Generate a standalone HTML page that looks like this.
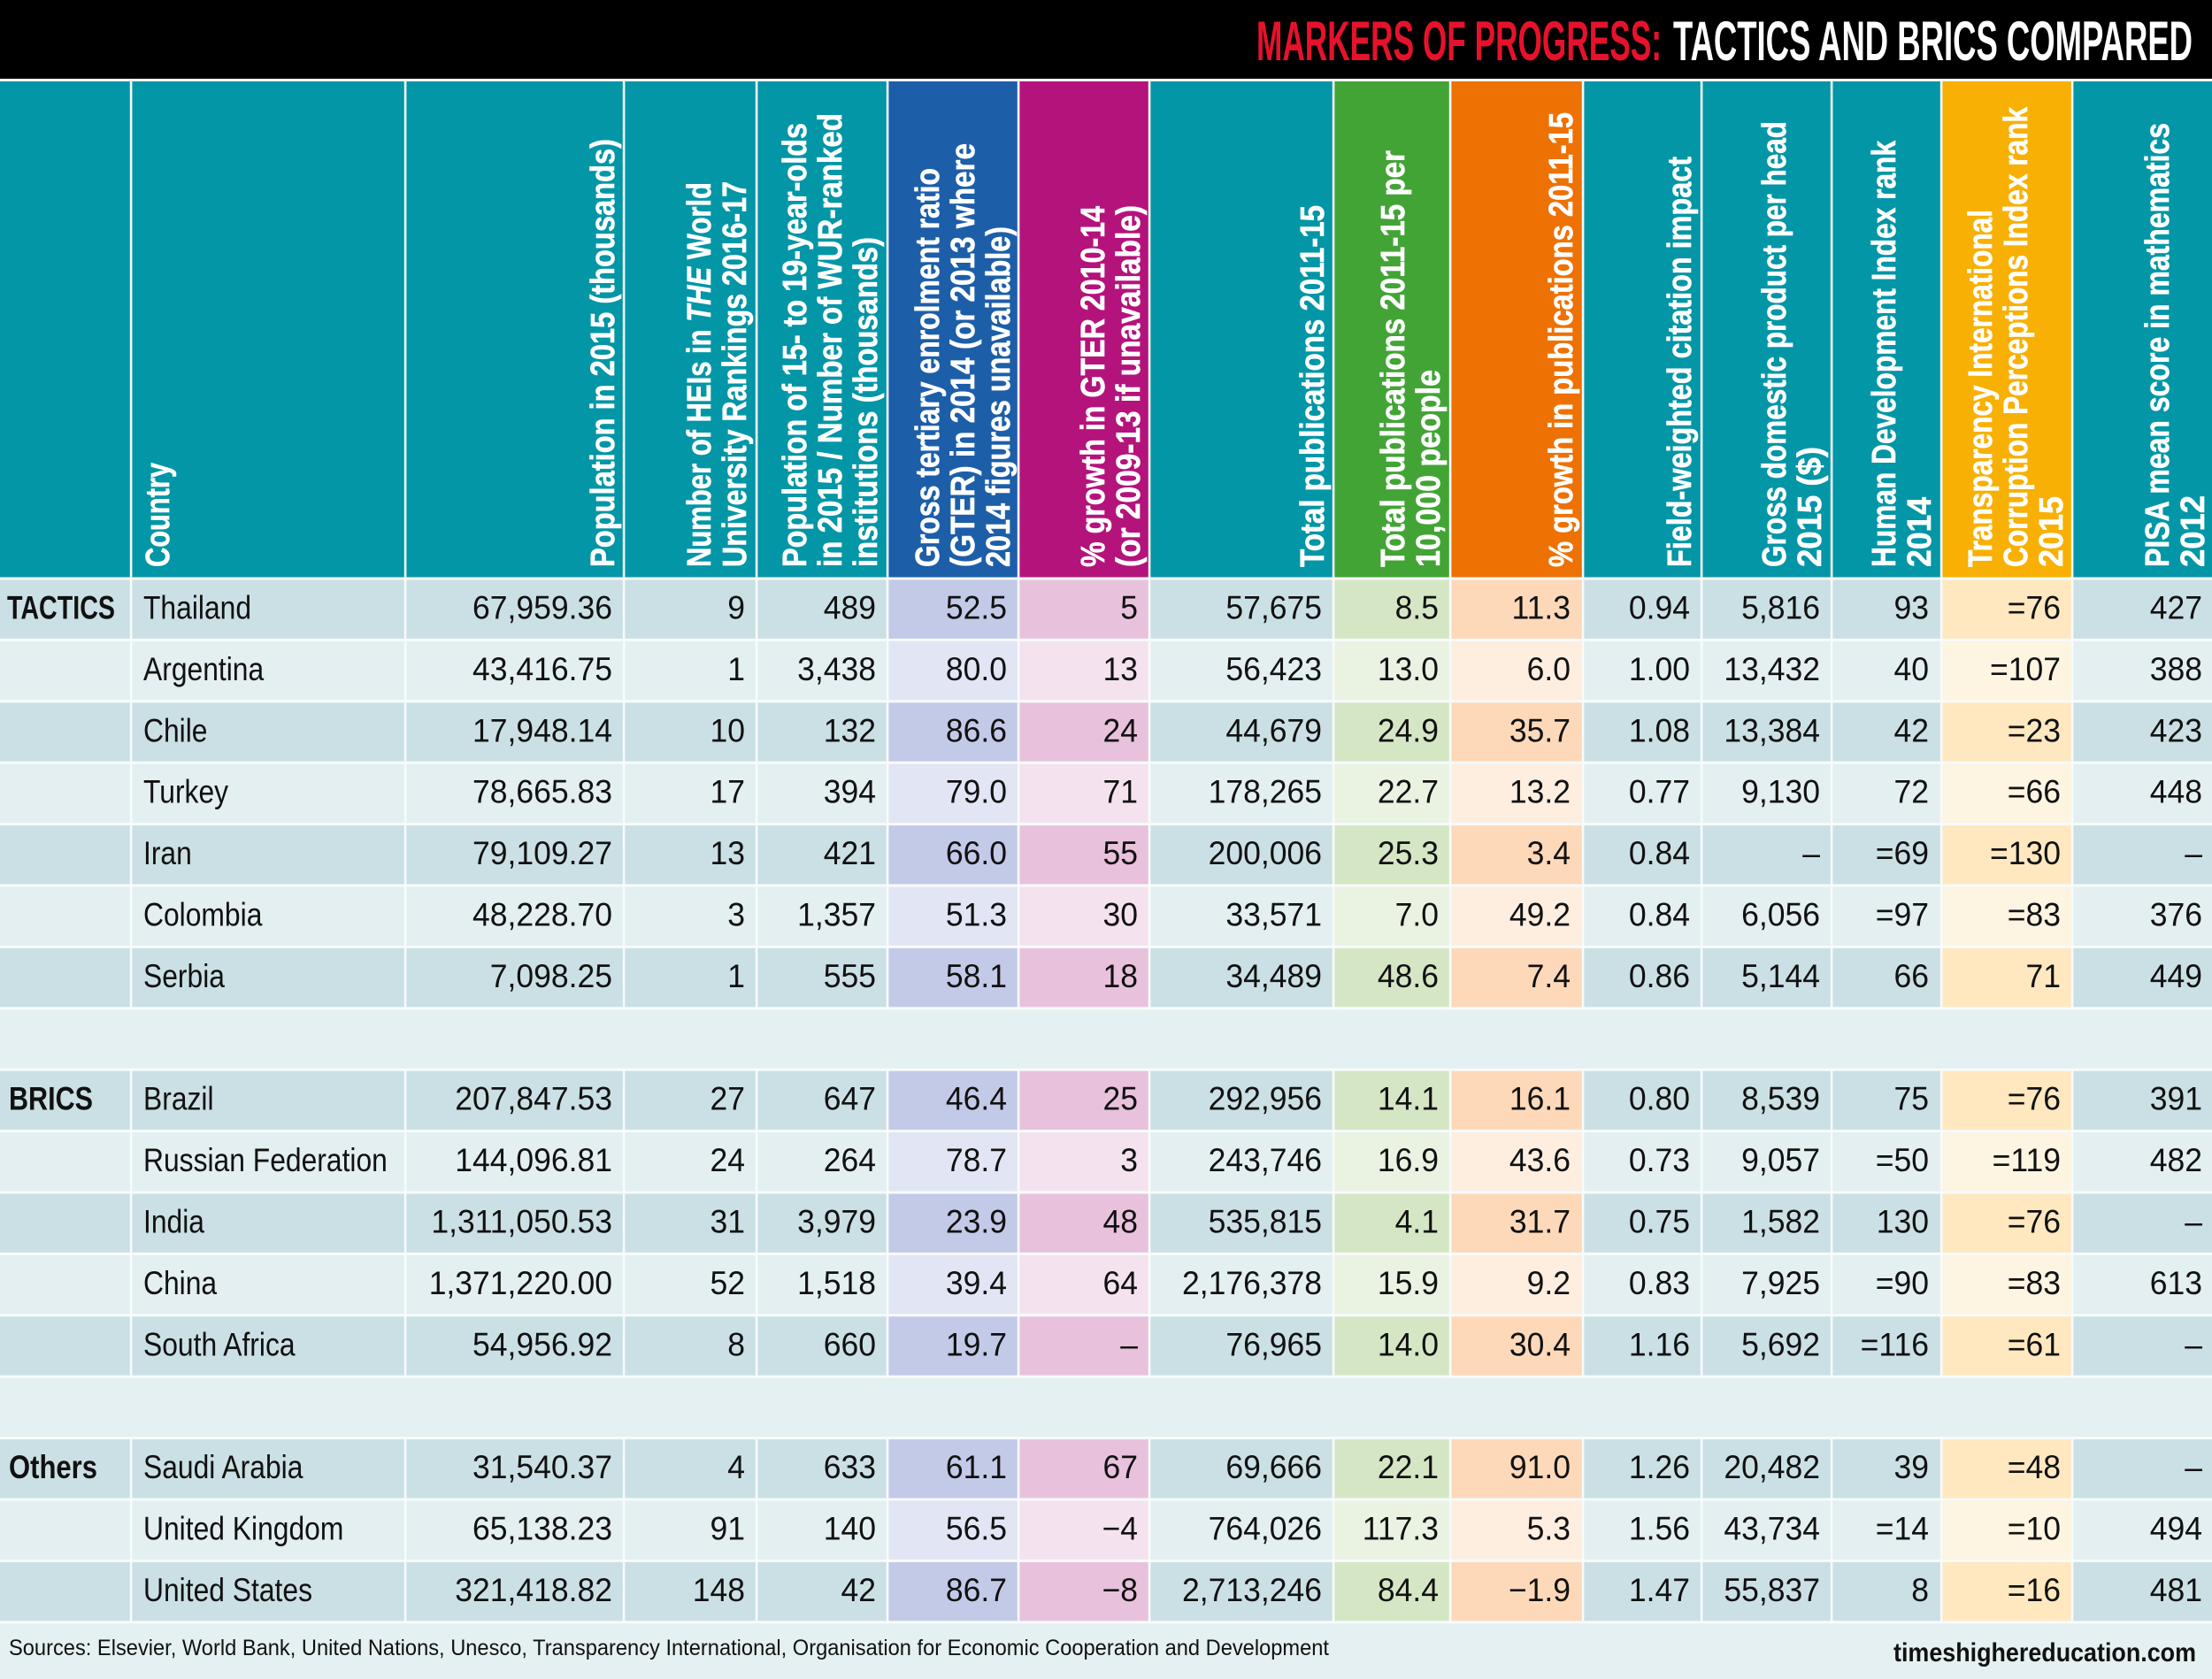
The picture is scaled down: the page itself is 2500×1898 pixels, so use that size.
<!DOCTYPE html>
<html>
<head>
<meta charset="utf-8">
<style>
html,body{margin:0;padding:0;background:#e4f0f1;}
body{width:2500px;height:1898px;overflow:hidden;}
svg{display:block;font-family:"Liberation Sans",Arial,sans-serif;}
.h{fill:#ffffff;stroke:#ffffff;stroke-width:0.6px;font-weight:bold;font-size:38px;}
.nm text{font-size:37px;fill:#111;}
.nv text{font-size:37px;fill:#111;text-anchor:end;}
.grp{font-size:37px;font-weight:bold;fill:#111;}
</style>
</head>
<body>
<svg width="2500" height="1898" viewBox="0 0 2500 1898" xmlns="http://www.w3.org/2000/svg">
<defs>
<pattern id="pT" patternUnits="userSpaceOnUse" x="0" y="654" width="10" height="138.8"><rect width="10" height="69.4" fill="#cbe0e5"/><rect y="69.4" width="10" height="69.4" fill="#e3eff1"/></pattern>
<pattern id="pB" patternUnits="userSpaceOnUse" x="0" y="654" width="10" height="138.8"><rect width="10" height="69.4" fill="#c3cae8"/><rect y="69.4" width="10" height="69.4" fill="#e2e5f4"/></pattern>
<pattern id="pM" patternUnits="userSpaceOnUse" x="0" y="654" width="10" height="138.8"><rect width="10" height="69.4" fill="#e8c2dd"/><rect y="69.4" width="10" height="69.4" fill="#f4e3ef"/></pattern>
<pattern id="pG" patternUnits="userSpaceOnUse" x="0" y="654" width="10" height="138.8"><rect width="10" height="69.4" fill="#d5e6c5"/><rect y="69.4" width="10" height="69.4" fill="#eaf2e2"/></pattern>
<pattern id="pO" patternUnits="userSpaceOnUse" x="0" y="654" width="10" height="138.8"><rect width="10" height="69.4" fill="#fdd9b9"/><rect y="69.4" width="10" height="69.4" fill="#fdeee0"/></pattern>
<pattern id="pY" patternUnits="userSpaceOnUse" x="0" y="654" width="10" height="138.8"><rect width="10" height="69.4" fill="#ffe8c0"/><rect y="69.4" width="10" height="69.4" fill="#fdf4e1"/></pattern>
</defs>

<!-- page background -->
<rect x="0" y="0" width="2500" height="1898" fill="#e4f0f1"/>

<!-- title bar -->
<rect x="0" y="0" width="2500" height="89" fill="#000"/>
<rect x="0" y="89" width="2500" height="3" fill="#f7fbfb"/>
<text x="1420" y="68" font-size="63" font-weight="bold" fill="#e6122c" textLength="458" lengthAdjust="spacingAndGlyphs">MARKERS OF PROGRESS:</text>
<text x="1891" y="68" font-size="63" font-weight="bold" fill="#ffffff" textLength="587" lengthAdjust="spacingAndGlyphs">TACTICS AND BRICS COMPARED</text>

<!-- header cells -->
<rect x="0" y="92" width="148" height="562" fill="#0396a6"/>
<rect x="148" y="92" width="310" height="562" fill="#0396a6"/>
<rect x="458" y="92" width="247" height="562" fill="#0396a6"/>
<rect x="705" y="92" width="150" height="562" fill="#0396a6"/>
<rect x="855" y="92" width="148" height="562" fill="#0396a6"/>
<rect x="1003" y="92" width="148" height="562" fill="#1d5ea9"/>
<rect x="1151" y="92" width="148" height="562" fill="#b4137c"/>
<rect x="1299" y="92" width="208" height="562" fill="#0396a6"/>
<rect x="1507" y="92" width="132" height="562" fill="#43a436"/>
<rect x="1639" y="92" width="150" height="562" fill="#ee7104"/>
<rect x="1789" y="92" width="134" height="562" fill="#0396a6"/>
<rect x="1923" y="92" width="147" height="562" fill="#0396a6"/>
<rect x="2070" y="92" width="124" height="562" fill="#0396a6"/>
<rect x="2194" y="92" width="148" height="562" fill="#f8b004"/>
<rect x="2342" y="92" width="158" height="562" fill="#0396a6"/>

<!-- data column backgrounds -->
<rect x="0" y="654" width="1003" height="1180" fill="url(#pT)"/>
<rect x="1003" y="654" width="148" height="1180" fill="url(#pB)"/>
<rect x="1151" y="654" width="148" height="1180" fill="url(#pM)"/>
<rect x="1299" y="654" width="208" height="1180" fill="url(#pT)"/>
<rect x="1507" y="654" width="132" height="1180" fill="url(#pG)"/>
<rect x="1639" y="654" width="150" height="1180" fill="url(#pO)"/>
<rect x="1789" y="654" width="405" height="1180" fill="url(#pT)"/>
<rect x="2194" y="654" width="148" height="1180" fill="url(#pY)"/>
<rect x="2342" y="654" width="158" height="1180" fill="url(#pT)"/>

<!-- gap rows -->
<rect x="0" y="1139.8" width="2500" height="69.4" fill="#e4f0f1"/>
<rect x="0" y="1556.2" width="2500" height="69.4" fill="#e4f0f1"/>

<!-- horizontal white lines -->
<g fill="#f7fbfb">
<rect x="0" y="652.5" width="2500" height="3"/>
<rect x="0" y="721.9" width="2500" height="3"/>
<rect x="0" y="791.3" width="2500" height="3"/>
<rect x="0" y="860.7" width="2500" height="3"/>
<rect x="0" y="930.1" width="2500" height="3"/>
<rect x="0" y="999.5" width="2500" height="3"/>
<rect x="0" y="1068.9" width="2500" height="3"/>
<rect x="0" y="1138.3" width="2500" height="3"/>
<rect x="0" y="1207.7" width="2500" height="3"/>
<rect x="0" y="1277.1" width="2500" height="3"/>
<rect x="0" y="1346.5" width="2500" height="3"/>
<rect x="0" y="1415.9" width="2500" height="3"/>
<rect x="0" y="1485.3" width="2500" height="3"/>
<rect x="0" y="1554.7" width="2500" height="3"/>
<rect x="0" y="1624.1" width="2500" height="3"/>
<rect x="0" y="1693.5" width="2500" height="3"/>
<rect x="0" y="1762.9" width="2500" height="3"/>
<rect x="0" y="1832.3" width="2500" height="3"/>
</g>

<!-- vertical white lines -->
<g fill="#f7fbfb">
<rect x="146.8" y="92" width="2.6" height="1047.8"/><rect x="146.8" y="1209.2" width="2.6" height="347"/><rect x="146.8" y="1625.6" width="2.6" height="208.2"/>
<rect x="456.8" y="92" width="2.6" height="1047.8"/><rect x="456.8" y="1209.2" width="2.6" height="347"/><rect x="456.8" y="1625.6" width="2.6" height="208.2"/>
<rect x="703.8" y="92" width="2.6" height="1047.8"/><rect x="703.8" y="1209.2" width="2.6" height="347"/><rect x="703.8" y="1625.6" width="2.6" height="208.2"/>
<rect x="853.8" y="92" width="2.6" height="1047.8"/><rect x="853.8" y="1209.2" width="2.6" height="347"/><rect x="853.8" y="1625.6" width="2.6" height="208.2"/>
<rect x="1001.8" y="92" width="2.6" height="1047.8"/><rect x="1001.8" y="1209.2" width="2.6" height="347"/><rect x="1001.8" y="1625.6" width="2.6" height="208.2"/>
<rect x="1149.8" y="92" width="2.6" height="1047.8"/><rect x="1149.8" y="1209.2" width="2.6" height="347"/><rect x="1149.8" y="1625.6" width="2.6" height="208.2"/>
<rect x="1297.8" y="92" width="2.6" height="1047.8"/><rect x="1297.8" y="1209.2" width="2.6" height="347"/><rect x="1297.8" y="1625.6" width="2.6" height="208.2"/>
<rect x="1505.8" y="92" width="2.6" height="1047.8"/><rect x="1505.8" y="1209.2" width="2.6" height="347"/><rect x="1505.8" y="1625.6" width="2.6" height="208.2"/>
<rect x="1637.8" y="92" width="2.6" height="1047.8"/><rect x="1637.8" y="1209.2" width="2.6" height="347"/><rect x="1637.8" y="1625.6" width="2.6" height="208.2"/>
<rect x="1787.8" y="92" width="2.6" height="1047.8"/><rect x="1787.8" y="1209.2" width="2.6" height="347"/><rect x="1787.8" y="1625.6" width="2.6" height="208.2"/>
<rect x="1921.8" y="92" width="2.6" height="1047.8"/><rect x="1921.8" y="1209.2" width="2.6" height="347"/><rect x="1921.8" y="1625.6" width="2.6" height="208.2"/>
<rect x="2068.8" y="92" width="2.6" height="1047.8"/><rect x="2068.8" y="1209.2" width="2.6" height="347"/><rect x="2068.8" y="1625.6" width="2.6" height="208.2"/>
<rect x="2192.8" y="92" width="2.6" height="1047.8"/><rect x="2192.8" y="1209.2" width="2.6" height="347"/><rect x="2192.8" y="1625.6" width="2.6" height="208.2"/>
<rect x="2340.8" y="92" width="2.6" height="1047.8"/><rect x="2340.8" y="1209.2" width="2.6" height="347"/><rect x="2340.8" y="1625.6" width="2.6" height="208.2"/>
</g>

<!-- header texts (rotated) -->
<text class="h" transform="translate(191 641) rotate(-90)" textLength="118" lengthAdjust="spacingAndGlyphs">Country</text>
<text class="h" transform="translate(694 641) rotate(-90)" textLength="484" lengthAdjust="spacingAndGlyphs">Population in 2015 (thousands)</text>
<text class="h" transform="translate(803 641) rotate(-90)" textLength="435" lengthAdjust="spacingAndGlyphs">Number of HEIs in <tspan font-style="italic">THE</tspan> World</text>
<text class="h" transform="translate(843 641) rotate(-90)" textLength="436" lengthAdjust="spacingAndGlyphs">University Rankings 2016-17</text>
<text class="h" transform="translate(911 641) rotate(-90)" textLength="502" lengthAdjust="spacingAndGlyphs">Population of 15- to 19-year-olds</text>
<text class="h" transform="translate(951 641) rotate(-90)" textLength="513" lengthAdjust="spacingAndGlyphs">in 2015 / Number of WUR-ranked</text>
<text class="h" transform="translate(991 641) rotate(-90)" textLength="373" lengthAdjust="spacingAndGlyphs">institutions (thousands)</text>
<text class="h" transform="translate(1061 641) rotate(-90)" textLength="451" lengthAdjust="spacingAndGlyphs">Gross tertiary enrolment ratio</text>
<text class="h" transform="translate(1101 641) rotate(-90)" textLength="479" lengthAdjust="spacingAndGlyphs">(GTER) in 2014 (or 2013 where</text>
<text class="h" transform="translate(1141 641) rotate(-90)" textLength="385" lengthAdjust="spacingAndGlyphs">2014 figures unavailable)</text>
<text class="h" transform="translate(1248 641) rotate(-90)" textLength="408" lengthAdjust="spacingAndGlyphs">% growth in GTER 2010-14</text>
<text class="h" transform="translate(1288 641) rotate(-90)" textLength="409" lengthAdjust="spacingAndGlyphs">(or 2009-13 if unavailable)</text>
<text class="h" transform="translate(1496 641) rotate(-90)" textLength="409" lengthAdjust="spacingAndGlyphs">Total publications 2011-15</text>
<text class="h" transform="translate(1587 641) rotate(-90)" textLength="471" lengthAdjust="spacingAndGlyphs">Total publications 2011-15 per</text>
<text class="h" transform="translate(1627 641) rotate(-90)" textLength="223" lengthAdjust="spacingAndGlyphs">10,000 people</text>
<text class="h" transform="translate(1777 641) rotate(-90)" textLength="514" lengthAdjust="spacingAndGlyphs">% growth in publications 2011-15</text>
<text class="h" transform="translate(1911 641) rotate(-90)" textLength="464" lengthAdjust="spacingAndGlyphs">Field-weighted citation impact</text>
<text class="h" transform="translate(2018 641) rotate(-90)" textLength="504" lengthAdjust="spacingAndGlyphs">Gross domestic product per head</text>
<text class="h" transform="translate(2058 641) rotate(-90)" textLength="136" lengthAdjust="spacingAndGlyphs">2015 ($)</text>
<text class="h" transform="translate(2142 641) rotate(-90)" textLength="482" lengthAdjust="spacingAndGlyphs">Human Development Index rank</text>
<text class="h" transform="translate(2182 641) rotate(-90)" textLength="79" lengthAdjust="spacingAndGlyphs">2014</text>
<text class="h" transform="translate(2251 641) rotate(-90)" textLength="404" lengthAdjust="spacingAndGlyphs">Transparency International</text>
<text class="h" transform="translate(2291 641) rotate(-90)" textLength="520" lengthAdjust="spacingAndGlyphs">Corruption Perceptions Index rank</text>
<text class="h" transform="translate(2331 641) rotate(-90)" textLength="80" lengthAdjust="spacingAndGlyphs">2015</text>
<text class="h" transform="translate(2451 641) rotate(-90)" textLength="502" lengthAdjust="spacingAndGlyphs">PISA mean score in mathematics</text>
<text class="h" transform="translate(2491 641) rotate(-90)" textLength="81" lengthAdjust="spacingAndGlyphs">2012</text>

<!-- group labels -->
<text class="grp" x="8" y="699.5" textLength="122" lengthAdjust="spacingAndGlyphs">TACTICS</text>
<text class="grp" x="10" y="1254.7" textLength="95" lengthAdjust="spacingAndGlyphs">BRICS</text>
<text class="grp" x="10" y="1671.1" textLength="100" lengthAdjust="spacingAndGlyphs">Others</text>

<!-- country names -->
<g class="nm" transform="translate(162 0) scale(0.86 1)">
<text x="0" y="699.5">Thailand</text>
<text x="0" y="768.9">Argentina</text>
<text x="0" y="838.3">Chile</text>
<text x="0" y="907.7">Turkey</text>
<text x="0" y="977.1">Iran</text>
<text x="0" y="1046.5">Colombia</text>
<text x="0" y="1115.9">Serbia</text>
<text x="0" y="1254.7">Brazil</text>
<text x="0" y="1324.1">Russian Federation</text>
<text x="0" y="1393.5">India</text>
<text x="0" y="1462.9">China</text>
<text x="0" y="1532.3">South Africa</text>
<text x="0" y="1671.1">Saudi Arabia</text>
<text x="0" y="1740.5">United Kingdom</text>
<text x="0" y="1809.9">United States</text>
</g>

<!-- Population -->
<g class="nv" transform="translate(692 0) scale(0.96 1)">
<text y="699.5">67,959.36</text><text y="768.9">43,416.75</text><text y="838.3">17,948.14</text><text y="907.7">78,665.83</text><text y="977.1">79,109.27</text><text y="1046.5">48,228.70</text><text y="1115.9">7,098.25</text>
<text y="1254.7">207,847.53</text><text y="1324.1">144,096.81</text><text y="1393.5">1,311,050.53</text><text y="1462.9">1,371,220.00</text><text y="1532.3">54,956.92</text>
<text y="1671.1">31,540.37</text><text y="1740.5">65,138.23</text><text y="1809.9">321,418.82</text>
</g>
<!-- HEIs -->
<g class="nv" transform="translate(842 0) scale(0.96 1)">
<text y="699.5">9</text><text y="768.9">1</text><text y="838.3">10</text><text y="907.7">17</text><text y="977.1">13</text><text y="1046.5">3</text><text y="1115.9">1</text>
<text y="1254.7">27</text><text y="1324.1">24</text><text y="1393.5">31</text><text y="1462.9">52</text><text y="1532.3">8</text>
<text y="1671.1">4</text><text y="1740.5">91</text><text y="1809.9">148</text>
</g>
<!-- Pop 15-19 -->
<g class="nv" transform="translate(990 0) scale(0.96 1)">
<text y="699.5">489</text><text y="768.9">3,438</text><text y="838.3">132</text><text y="907.7">394</text><text y="977.1">421</text><text y="1046.5">1,357</text><text y="1115.9">555</text>
<text y="1254.7">647</text><text y="1324.1">264</text><text y="1393.5">3,979</text><text y="1462.9">1,518</text><text y="1532.3">660</text>
<text y="1671.1">633</text><text y="1740.5">140</text><text y="1809.9">42</text>
</g>
<!-- GTER -->
<g class="nv" transform="translate(1138 0) scale(0.96 1)">
<text y="699.5">52.5</text><text y="768.9">80.0</text><text y="838.3">86.6</text><text y="907.7">79.0</text><text y="977.1">66.0</text><text y="1046.5">51.3</text><text y="1115.9">58.1</text>
<text y="1254.7">46.4</text><text y="1324.1">78.7</text><text y="1393.5">23.9</text><text y="1462.9">39.4</text><text y="1532.3">19.7</text>
<text y="1671.1">61.1</text><text y="1740.5">56.5</text><text y="1809.9">86.7</text>
</g>
<!-- growth GTER -->
<g class="nv" transform="translate(1286 0) scale(0.96 1)">
<text y="699.5">5</text><text y="768.9">13</text><text y="838.3">24</text><text y="907.7">71</text><text y="977.1">55</text><text y="1046.5">30</text><text y="1115.9">18</text>
<text y="1254.7">25</text><text y="1324.1">3</text><text y="1393.5">48</text><text y="1462.9">64</text><text y="1532.3">–</text>
<text y="1671.1">67</text><text y="1740.5">−4</text><text y="1809.9">−8</text>
</g>
<!-- Total publications -->
<g class="nv" transform="translate(1494 0) scale(0.96 1)">
<text y="699.5">57,675</text><text y="768.9">56,423</text><text y="838.3">44,679</text><text y="907.7">178,265</text><text y="977.1">200,006</text><text y="1046.5">33,571</text><text y="1115.9">34,489</text>
<text y="1254.7">292,956</text><text y="1324.1">243,746</text><text y="1393.5">535,815</text><text y="1462.9">2,176,378</text><text y="1532.3">76,965</text>
<text y="1671.1">69,666</text><text y="1740.5">764,026</text><text y="1809.9">2,713,246</text>
</g>
<!-- per 10,000 -->
<g class="nv" transform="translate(1626 0) scale(0.96 1)">
<text y="699.5">8.5</text><text y="768.9">13.0</text><text y="838.3">24.9</text><text y="907.7">22.7</text><text y="977.1">25.3</text><text y="1046.5">7.0</text><text y="1115.9">48.6</text>
<text y="1254.7">14.1</text><text y="1324.1">16.9</text><text y="1393.5">4.1</text><text y="1462.9">15.9</text><text y="1532.3">14.0</text>
<text y="1671.1">22.1</text><text y="1740.5">117.3</text><text y="1809.9">84.4</text>
</g>
<!-- growth publications -->
<g class="nv" transform="translate(1775 0) scale(0.96 1)">
<text y="699.5">11.3</text><text y="768.9">6.0</text><text y="838.3">35.7</text><text y="907.7">13.2</text><text y="977.1">3.4</text><text y="1046.5">49.2</text><text y="1115.9">7.4</text>
<text y="1254.7">16.1</text><text y="1324.1">43.6</text><text y="1393.5">31.7</text><text y="1462.9">9.2</text><text y="1532.3">30.4</text>
<text y="1671.1">91.0</text><text y="1740.5">5.3</text><text y="1809.9">−1.9</text>
</g>
<!-- FWCI -->
<g class="nv" transform="translate(1910 0) scale(0.96 1)">
<text y="699.5">0.94</text><text y="768.9">1.00</text><text y="838.3">1.08</text><text y="907.7">0.77</text><text y="977.1">0.84</text><text y="1046.5">0.84</text><text y="1115.9">0.86</text>
<text y="1254.7">0.80</text><text y="1324.1">0.73</text><text y="1393.5">0.75</text><text y="1462.9">0.83</text><text y="1532.3">1.16</text>
<text y="1671.1">1.26</text><text y="1740.5">1.56</text><text y="1809.9">1.47</text>
</g>
<!-- GDP -->
<g class="nv" transform="translate(2057 0) scale(0.96 1)">
<text y="699.5">5,816</text><text y="768.9">13,432</text><text y="838.3">13,384</text><text y="907.7">9,130</text><text y="977.1">–</text><text y="1046.5">6,056</text><text y="1115.9">5,144</text>
<text y="1254.7">8,539</text><text y="1324.1">9,057</text><text y="1393.5">1,582</text><text y="1462.9">7,925</text><text y="1532.3">5,692</text>
<text y="1671.1">20,482</text><text y="1740.5">43,734</text><text y="1809.9">55,837</text>
</g>
<!-- HDI -->
<g class="nv" transform="translate(2180 0) scale(0.96 1)">
<text y="699.5">93</text><text y="768.9">40</text><text y="838.3">42</text><text y="907.7">72</text><text y="977.1">=69</text><text y="1046.5">=97</text><text y="1115.9">66</text>
<text y="1254.7">75</text><text y="1324.1">=50</text><text y="1393.5">130</text><text y="1462.9">=90</text><text y="1532.3">=116</text>
<text y="1671.1">39</text><text y="1740.5">=14</text><text y="1809.9">8</text>
</g>
<!-- CPI -->
<g class="nv" transform="translate(2329 0) scale(0.96 1)">
<text y="699.5">=76</text><text y="768.9">=107</text><text y="838.3">=23</text><text y="907.7">=66</text><text y="977.1">=130</text><text y="1046.5">=83</text><text y="1115.9">71</text>
<text y="1254.7">=76</text><text y="1324.1">=119</text><text y="1393.5">=76</text><text y="1462.9">=83</text><text y="1532.3">=61</text>
<text y="1671.1">=48</text><text y="1740.5">=10</text><text y="1809.9">=16</text>
</g>
<!-- PISA -->
<g class="nv" transform="translate(2489 0) scale(0.96 1)">
<text y="699.5">427</text><text y="768.9">388</text><text y="838.3">423</text><text y="907.7">448</text><text y="977.1">–</text><text y="1046.5">376</text><text y="1115.9">449</text>
<text y="1254.7">391</text><text y="1324.1">482</text><text y="1393.5">–</text><text y="1462.9">613</text><text y="1532.3">–</text>
<text y="1671.1">–</text><text y="1740.5">494</text><text y="1809.9">481</text>
</g>

<!-- footer -->
<text x="10" y="1871" font-size="25" fill="#111" textLength="1492" lengthAdjust="spacingAndGlyphs">Sources: Elsevier, World Bank, United Nations, Unesco, Transparency International, Organisation for Economic Cooperation and Development</text>
<text x="2140" y="1878" font-size="30" font-weight="bold" fill="#111" textLength="342" lengthAdjust="spacingAndGlyphs">timeshighereducation.com</text>
</svg>
</body>
</html>
